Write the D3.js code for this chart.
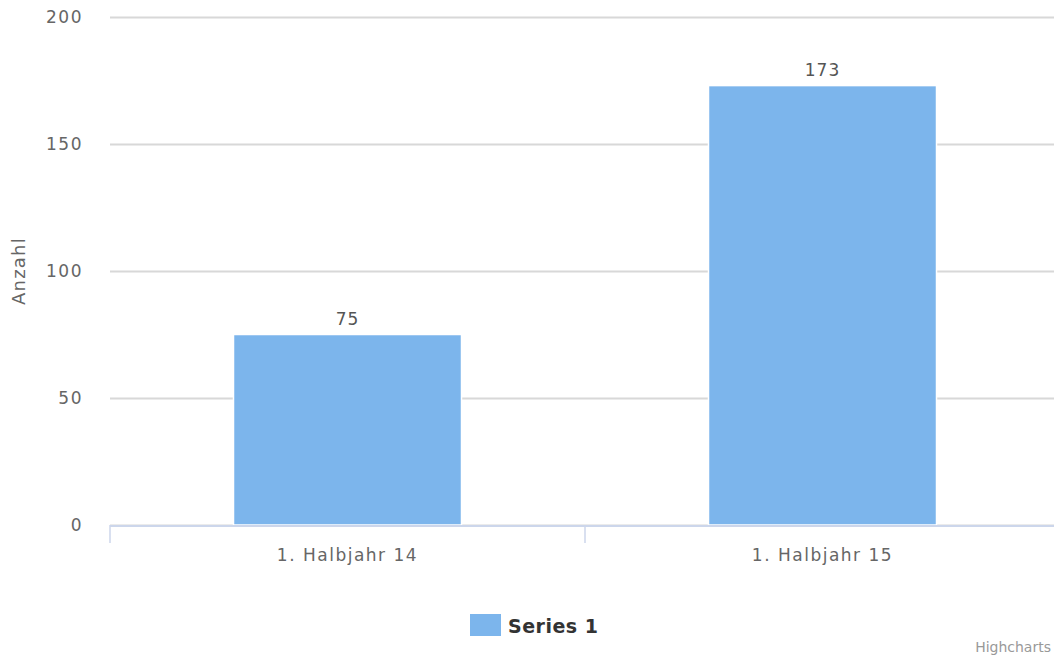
<!DOCTYPE html>
<html>
<head>
<meta charset="utf-8">
<script src="https://cdnjs.cloudflare.com/ajax/libs/d3/7.8.5/d3.min.js"></script>
<style>
  body { margin: 0; background: #fff; overflow: hidden; }
  text { font-family: "DejaVu Sans", Verdana, sans-serif; }
</style>
</head>
<body>
<div id="chart"></div>
<script>
// chart data
const categories = ["1. Halbjahr 14", "1. Halbjahr 15"];
const values = [75, 173];
const yTicks = [0, 50, 100, 150, 200];
const seriesName = "Series 1";
const yTitle = "Anzahl";

const width = 1054, height = 659;
const plot = { left: 110, right: 1060, top: 17, bottom: 525 };

const svg = d3.select("#chart").append("svg")
  .attr("width", width)
  .attr("height", height);

const x = d3.scaleBand()
  .domain(categories)
  .range([plot.left, plot.right])
  .paddingInner(0.52)
  .paddingOuter(0.26);

const y = d3.scaleLinear()
  .domain([0, 200])
  .range([plot.bottom, plot.top]);

// gridlines
svg.append("g")
  .selectAll("line")
  .data(yTicks)
  .join("line")
  .attr("x1", plot.left)
  .attr("x2", plot.right)
  .attr("y1", d => Math.round(y(d)) + 0.5)
  .attr("y2", d => Math.round(y(d)) + 0.5)
  .attr("stroke", "#d8d8d8")
  .attr("stroke-width", 2);

// y tick labels
svg.append("g")
  .selectAll("text")
  .data(yTicks)
  .join("text")
  .attr("x", 83)
  .attr("y", d => y(d) + 6)
  .attr("text-anchor", "end")
  .attr("fill", "#666")
  .style("font-size", "17px")
  .style("letter-spacing", "1.5px")
  .text(d => d);

// y axis title
svg.append("text")
  .attr("transform", `translate(25, ${(plot.top + plot.bottom) / 2}) rotate(-90)`)
  .attr("text-anchor", "middle")
  .attr("fill", "#666")
  .style("font-size", "18px")
  .style("letter-spacing", "1.2px")
  .text(yTitle);

// bars
svg.append("g")
  .selectAll("rect")
  .data(values)
  .join("rect")
  .attr("x", (d, i) => x(categories[i]))
  .attr("y", d => y(d))
  .attr("width", x.bandwidth())
  .attr("height", d => y(0) - y(d))
  .attr("fill", "#7cb5ec")
  .attr("stroke", "#fff")
  .attr("stroke-width", 1.5);

// data labels
svg.append("g")
  .selectAll("text")
  .data(values)
  .join("text")
  .attr("x", (d, i) => x(categories[i]) + x.bandwidth() / 2)
  .attr("y", d => y(d) - 10)
  .attr("text-anchor", "middle")
  .attr("fill", "#555")
  .style("font-size", "17px")
  .style("letter-spacing", "1px")
  .text(d => d);

// x axis line and ticks
const step = (plot.right - plot.left) / categories.length;
svg.append("line")
  .attr("x1", plot.left).attr("x2", plot.right)
  .attr("y1", plot.bottom + 1).attr("y2", plot.bottom + 1)
  .attr("stroke", "#ccd6eb").attr("stroke-width", 2);
svg.append("g")
  .selectAll("line")
  .data(d3.range(categories.length + 1))
  .join("line")
  .attr("x1", i => plot.left + i * step)
  .attr("x2", i => plot.left + i * step)
  .attr("y1", plot.bottom)
  .attr("y2", plot.bottom + 18)
  .attr("stroke", "#ccd6eb")
  .attr("stroke-width", 1.5);

// x labels
svg.append("g")
  .selectAll("text")
  .data(categories)
  .join("text")
  .attr("x", d => x(d) + x.bandwidth() / 2)
  .attr("y", 561)
  .attr("text-anchor", "middle")
  .attr("fill", "#666")
  .style("font-size", "17px")
  .style("letter-spacing", "1.5px")
  .text(d => d);

// legend
svg.append("rect")
  .attr("x", 470).attr("y", 614)
  .attr("width", 31).attr("height", 22)
  .attr("fill", "#7cb5ec");
svg.append("text")
  .attr("x", 508).attr("y", 633)
  .attr("fill", "#333")
  .style("font-size", "19px")
  .style("font-weight", "bold")
  .style("letter-spacing", "0.5px")
  .text(seriesName);

// credits
svg.append("text")
  .attr("x", width - 3).attr("y", 652)
  .attr("text-anchor", "end")
  .attr("fill", "#999")
  .style("font-size", "14px")
  .text("Highcharts");
</script>
</body>
</html>
